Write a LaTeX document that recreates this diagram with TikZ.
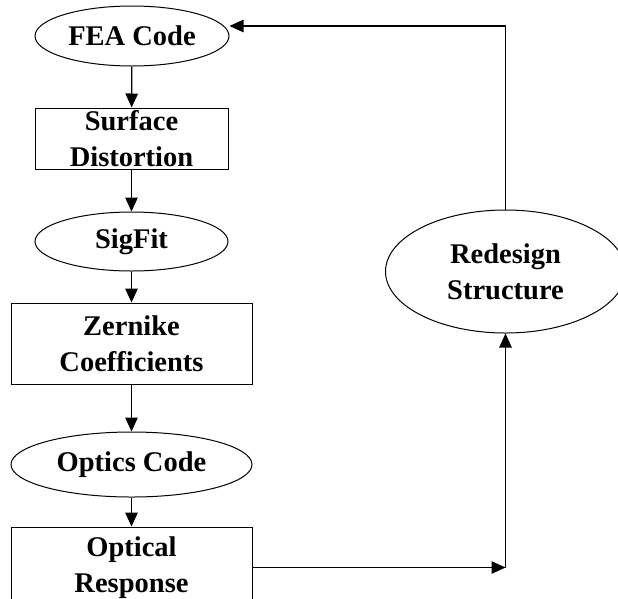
\documentclass[tikz,border=0pt]{standalone}
\usepackage{fontspec}
\setmainfont{Liberation Serif}
\usetikzlibrary{shapes.geometric,arrows.meta}

\begin{document}
\begin{tikzpicture}[x=1pt,y=-1pt,
  every node/.style={font=\fontsize{28.5}{36}\selectfont\bfseries, align=center, inner sep=0pt},
  proc/.style={draw, ellipse, line width=1pt},
  data/.style={draw, rectangle, line width=1pt},
  flow/.style={draw, line width=1.2pt, ->, >={Triangle[length=14pt,width=12.5pt]}}]
\clip (0,0) rectangle (618,598);

\node[proc, minimum width=194pt, minimum height=60pt] (fea) at (132,36) {FEA Code};
\node[data, minimum width=193pt, minimum height=61pt] (surf) at (131.5,138.5) {Surface\\Distortion};
\node[proc, minimum width=193pt, minimum height=59pt] (sig) at (131.5,241.5) {SigFit};
\node[data, minimum width=241pt, minimum height=81pt] (zern) at (131.5,343.5) {Zernike\\Coefficients};
\node[proc, minimum width=241pt, minimum height=65pt] (optc) at (131.5,464.5) {Optics Code};
\node[data, minimum width=241pt, minimum height=81pt] (opt) at (131.5,567.5) {Optical\\Response};
\node[proc, minimum width=240pt, minimum height=123pt] (redes) at (505.5,271.5) {Redesign\\Structure};

\coordinate (corner) at (505.5,567.5);
\coordinate (ret) at (505.5,26);

\path[flow] (fea) -- (surf);
\path[flow] (surf) -- (sig);
\path[flow] (sig) -- (zern);
\path[flow] (zern) -- (optc);
\path[flow] (optc) -- (opt);

\path[flow] (opt) -- (corner);
\path[flow] (corner) -- (redes);
\path[flow] (redes) -- (ret) -- (fea.east |- ret);
\end{tikzpicture}
\end{document}
